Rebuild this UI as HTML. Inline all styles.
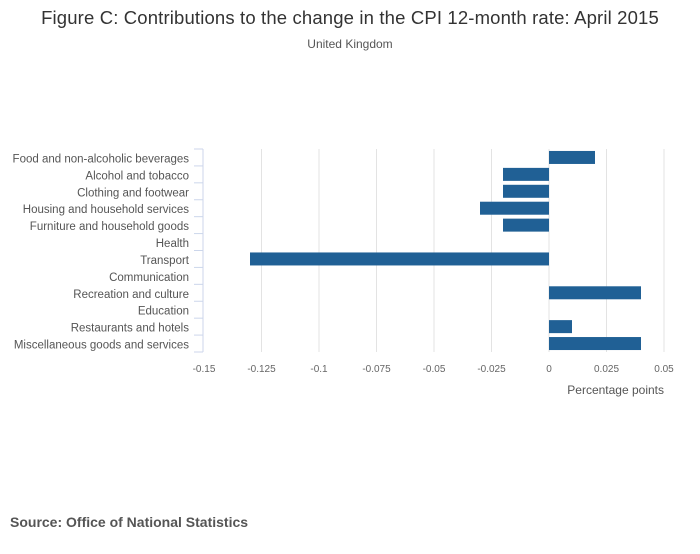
<!DOCTYPE html>
<html><head><meta charset="utf-8"><style>
body{margin:0;background:#fff;font-family:"Liberation Sans",sans-serif;}
</style></head><body>
<svg width="700" height="549" xmlns="http://www.w3.org/2000/svg" font-family="Liberation Sans, sans-serif">
<text x="350" y="24" text-anchor="middle" font-size="18.5" letter-spacing="0.15" fill="#333">Figure C: Contributions to the change in the CPI 12-month rate: April 2015</text>
<text x="350" y="48" text-anchor="middle" font-size="12" fill="#555">United Kingdom</text>
<g id="grid"></g><g id="bars"></g><g id="yaxis"></g><g id="xaxis"></g>
<text x="664" y="394" text-anchor="end" font-size="12" fill="#555">Percentage points</text>
<text x="10" y="527" font-size="14" font-weight="bold" fill="#555">Source: Office of National Statistics</text>
</svg>
<script>
const categories=["Food and non-alcoholic beverages","Alcohol and tobacco","Clothing and footwear","Housing and household services","Furniture and household goods","Health","Transport","Communication","Recreation and culture","Education","Restaurants and hotels","Miscellaneous goods and services"];
const values=[0.02,-0.02,-0.02,-0.03,-0.02,0,-0.13,0,0.04,0,0.01,0.04];
const ticks=[-0.15,-0.125,-0.1,-0.075,-0.05,-0.025,0,0.025,0.05];
const tickLabels=["-0.15","-0.125","-0.1","-0.075","-0.05","-0.025","0","0.025","0.05"];
const NS="http://www.w3.org/2000/svg";
const x0=204,x1=664,yTop=149,yBot=352;
const xs=v=>x0+(v-(-0.15))/(0.2)*(x1-x0);
const band=(yBot-yTop)/categories.length;
function mk(t,a,p){const e=document.createElementNS(NS,t);for(const k in a)e.setAttribute(k,a[k]);p.appendChild(e);return e;}
const g=document.getElementById('grid'),b=document.getElementById('bars'),ya=document.getElementById('yaxis'),xa=document.getElementById('xaxis');
ticks.forEach((t,i)=>{
 if(i>0){const l=mk('line',{x1:xs(t),x2:xs(t),y1:yTop,y2:yBot,stroke:'#e3e3e3','stroke-width':1},g);
 
 }
 const tx=mk('text',{x:xs(t),y:372,'text-anchor':'middle','font-size':10,fill:'#666'},xa);tx.textContent=tickLabels[i];
 
 
});
const ax=mk('line',{x1:x0-1,x2:x0-1,y1:yTop,y2:yBot,stroke:'#ccd6eb','stroke-width':1},ya);


for(let i=0;i<=categories.length;i++){const y=yTop+i*band;
 const tk=mk('line',{x1:x0-10,x2:x0-1,y1:y,y2:y,stroke:'#ccd6eb','stroke-width':1},ya);
 
 }
categories.forEach((c,i)=>{
 const cy=yTop+(i+0.5)*band;
 const t=mk('text',{x:189,y:cy+5,'text-anchor':'end','font-size':11.5,fill:'#555'},ya);t.textContent=c;
 
 
 const v=values[i];
 if(v!==0){const r=mk('rect',{x:Math.min(xs(0),xs(v)),y:cy-6.5,width:Math.abs(xs(v)-xs(0)),height:13,fill:'#206095'},b);
 
 }
});
</script>
</body></html>
